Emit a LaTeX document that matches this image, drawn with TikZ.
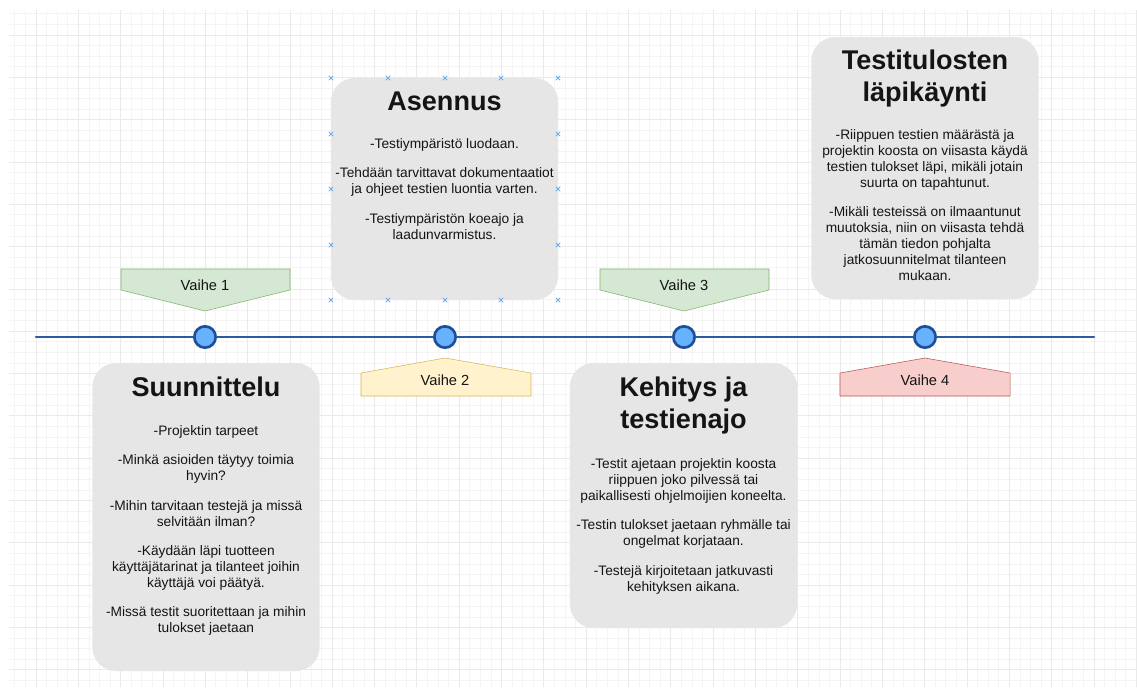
\documentclass[tikz,border=0pt]{standalone}
\usepackage{fontspec}
\setmainfont{Liberation Sans}
\usepackage{tikz}
\usetikzlibrary{positioning}

\definecolor{boxgray}{HTML}{E6E6E6}
\definecolor{gridminor}{HTML}{F4F4F4}
\definecolor{gridmajor}{HTML}{EAEAEA}
\definecolor{tlblue}{HTML}{2C5BA2}
\definecolor{dotfill}{HTML}{66B2FF}
\definecolor{dotline}{HTML}{1F4F96}
\definecolor{greenfill}{HTML}{D5E8D4}
\definecolor{greenline}{HTML}{82B366}
\definecolor{yellowfill}{HTML}{FFF2CC}
\definecolor{yellowline}{HTML}{D6B656}
\definecolor{redfill}{HTML}{F8CECC}
\definecolor{redline}{HTML}{B85450}
\definecolor{selblue}{HTML}{6AAEEA}
\definecolor{textcol}{HTML}{141414}

\tikzset{
  phasebox/.style={fill=boxgray, draw=none, rounded corners=18pt,
    minimum width=170.5pt, inner sep=0pt},
  phasetitle/.style={font=\fontsize{20.3}{24}\selectfont\bfseries,
    align=center, inner sep=0pt, text=textcol},
  phasetext/.style={font=\fontsize{10.3}{12}\selectfont,
    align=center, inner sep=0pt, text=textcol},
  stagedot/.style={circle, fill=dotfill, draw=dotline, line width=2pt,
    minimum size=16pt, inner sep=0pt},
  timeline/.style={draw=tlblue, line width=2pt},
  vaihetext/.style={font=\fontsize{11}{13}\selectfont, text=textcol, inner sep=0pt},
  selmark/.style={draw=selblue, line width=0.6pt},
}

\begin{document}
\begin{tikzpicture}[x=0.75pt,y=-0.75pt,line cap=round]

  \useasboundingbox [fill=white] (0,0) rectangle (1137,687);

  % grid
  \begin{scope}
    \clip (9,10) rectangle (1137,687);
    \foreach \i in {-2,...,104}
      \draw [gridminor, line width=0.6pt] ({36+10.58*\i},10) -- ({36+10.58*\i},687);
    \foreach \j in {-2,...,61}
      \draw [gridminor, line width=0.6pt] (9,{35+10.58*\j}) -- (1137,{35+10.58*\j});
    \foreach \k in {0,...,26}
      \draw [gridmajor, line width=0.6pt] ({36+42.32*\k},10) -- ({36+42.32*\k},687);
    \foreach \k in {0,...,15}
      \draw [gridmajor, line width=0.6pt] (9,{35+42.32*\k}) -- (1137,{35+42.32*\k});
  \end{scope}

  % timeline
  \coordinate (tlstart) at (36,337);
  \coordinate (tlend) at (1094,337);
  \node [stagedot] (c1) at (205,337) {};
  \node [stagedot] (c2) at (445,337) {};
  \node [stagedot] (c3) at (684,337) {};
  \node [stagedot] (c4) at (925,337) {};
  \draw [timeline] (tlstart) -- (c1) -- (c2) -- (c3) -- (c4) -- (tlend);

  % vaiheet
  \draw [fill=greenfill, draw=greenline] (121,269) -- (290,269) -- (290,290) -- (205,311) -- (121,290) -- cycle;
  \node [vaihetext] (v1) at (205,285) {Vaihe 1};

  \draw [fill=yellowfill, draw=yellowline] (361,396) -- (531,396) -- (531,373) -- (445,358) -- (361,373) -- cycle;
  \node [vaihetext] (v2) at (445,380) {Vaihe 2};

  \draw [fill=greenfill, draw=greenline] (600,269) -- (769,269) -- (769,290) -- (684,311) -- (600,290) -- cycle;
  \node [vaihetext] (v3) at (684,285) {Vaihe 3};

  \draw [fill=redfill, draw=redline] (840,396) -- (1010,396) -- (1010,373) -- (925,358) -- (840,373) -- cycle;
  \node [vaihetext] (v4) at (925,380) {Vaihe 4};

  % laatikot
  \node [phasebox, minimum height=231pt] (suun) at (206,517) {};
  \node [phasetitle, below=10.5pt of suun.north] (suunt) {Suunnittelu};
  \node [phasetext, below=46.9pt of suun.north] (suunb)
    {-Projektin tarpeet\\[10pt]
     -Minkä asioiden täytyy toimia\\hyvin?\\[10pt]
     -Mihin tarvitaan testejä ja missä\\selvitään ilman?\\[10pt]
     -Käydään läpi tuotteen\\käyttäjätarinat ja tilanteet joihin\\käyttäjä voi päätyä.\\[10pt]
     -Missä testit suoritettaan ja mihin\\tulokset jaetaan};

  \node [phasebox, minimum height=166.5pt] (asen) at (444.5,189) {};
  \node [phasetitle, below=10.5pt of asen.north] (asent) {Asennus};
  \node [phasetext, below=45.4pt of asen.north] (asenb)
    {-Testiympäristö luodaan.\\[10pt]
     -Tehdään tarvittavat dokumentaatiot\\ja ohjeet testien luontia varten.\\[10pt]
     -Testiympäristön koeajo ja\\laadunvarmistus.};
  \foreach \mx/\my in {331/78,388/78,445/78,501/78,558/78,
                       331/300,388/300,445/300,501/300,558/300,
                       331/134,331/189,331/245,558/134,558/189,558/245}
    \draw [selmark] (\mx-2,\my-2) -- (\mx+2,\my+2) (\mx-2,\my+2) -- (\mx+2,\my-2);

  \node [phasebox, minimum height=198.75pt] (kehi) at (683.5,495.5) {};
  \node [phasetitle, below=10.5pt of kehi.north] (kehit) {Kehitys ja\\testienajo};
  \node [phasetext, below=71.6pt of kehi.north] (kehib)
    {-Testit ajetaan projektin koosta\\riippuen joko pilvessä tai\\paikallisesti ohjelmoijien koneelta.\\[10pt]
     -Testin tulokset jaetaan ryhmälle tai\\ongelmat korjataan.\\[10pt]
     -Testejä kirjoitetaan jatkuvasti\\kehityksen aikana.};

  \node [phasebox, minimum height=196.5pt] (test) at (925,168) {};
  \node [phasetitle, below=9.5pt of test.north] (testt) {Testitulosten\\läpikäynti};
  \node [phasetext, below=69.4pt of test.north] (testb)
    {-Riippuen testien määrästä ja\\projektin koosta on viisasta käydä\\testien tulokset läpi, mikäli jotain\\suurta on tapahtunut.\\[10pt]
     -Mikäli testeissä on ilmaantunut\\muutoksia, niin on viisasta tehdä\\tämän tiedon pohjalta\\jatkosuunnitelmat tilanteen\\mukaan.};

\end{tikzpicture}
\end{document}
